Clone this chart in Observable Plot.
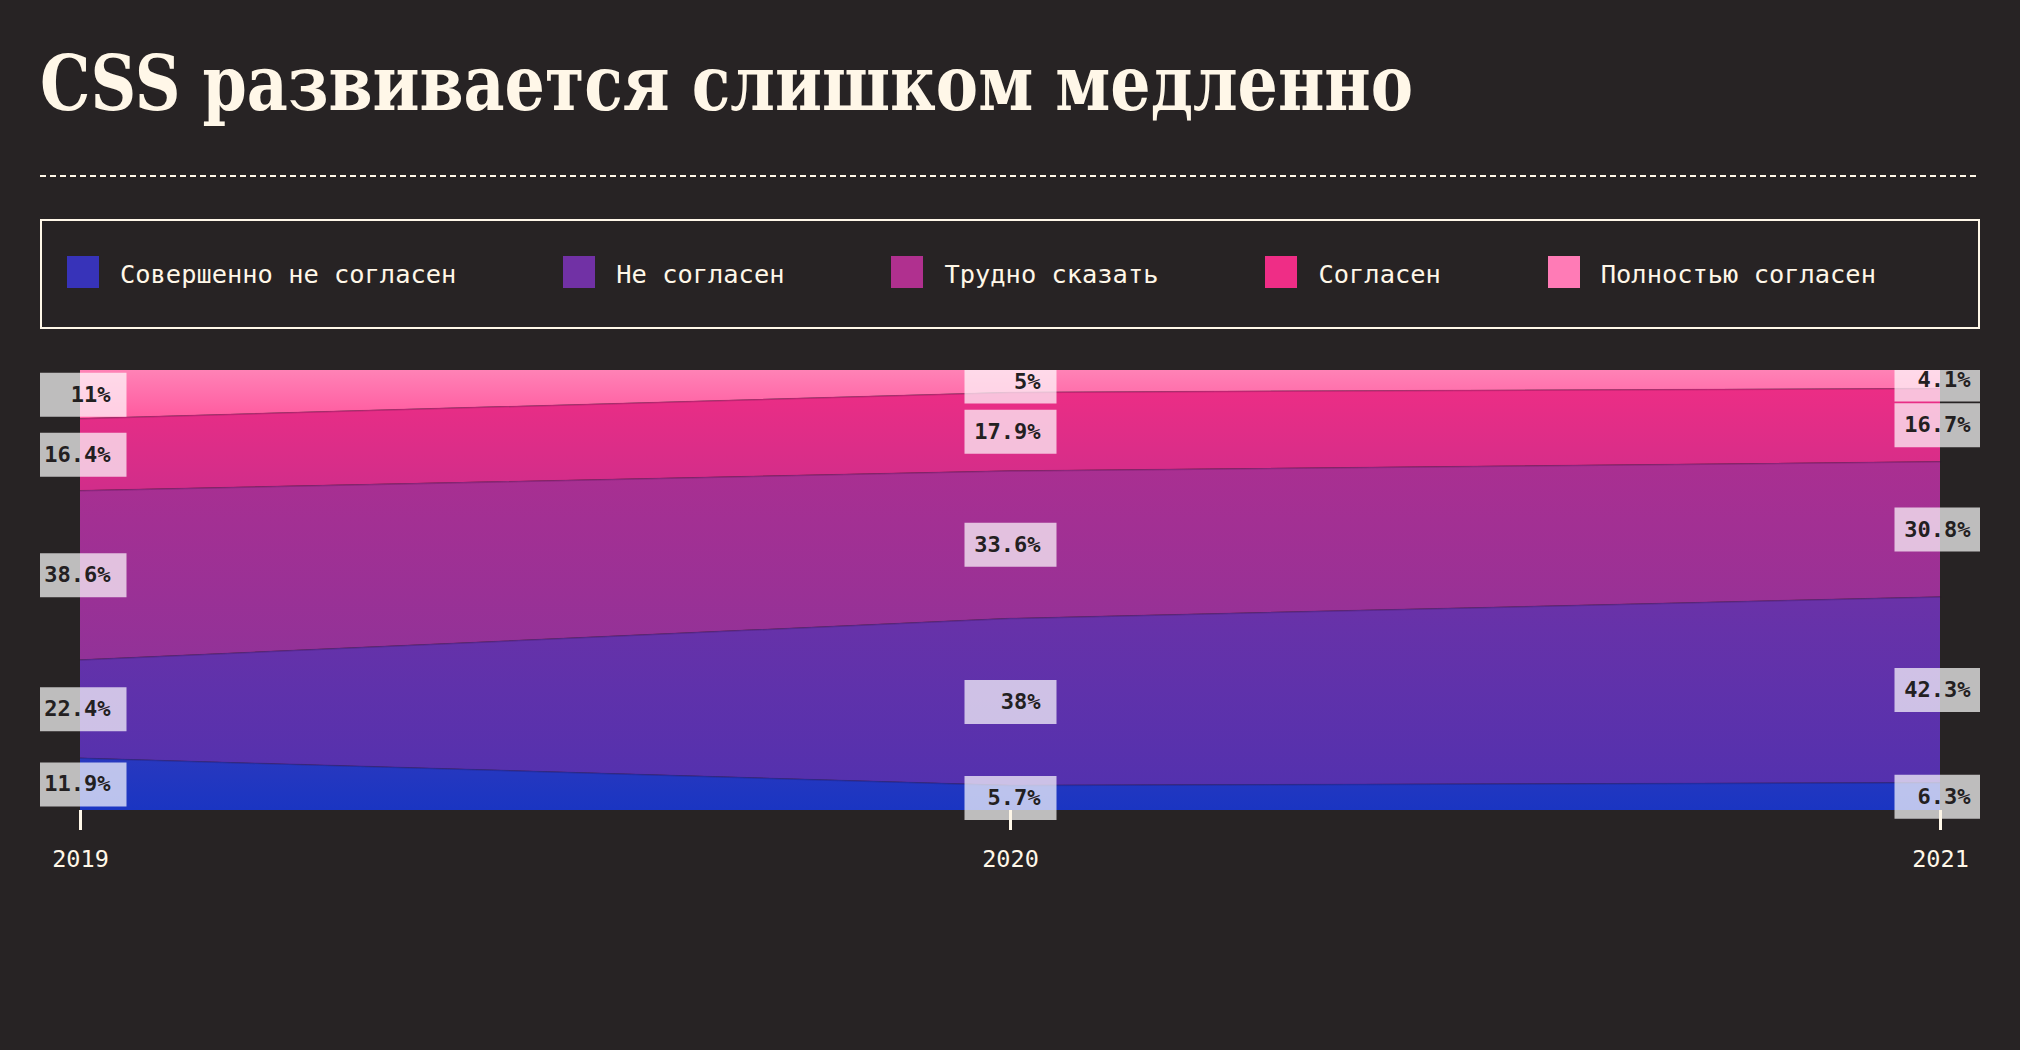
<!DOCTYPE html>
<html>
<head>
<meta charset="utf-8">
<script src="https://cdn.jsdelivr.net/npm/d3@7"></script>
<script src="https://cdn.jsdelivr.net/npm/@observablehq/plot@0.6"></script>
<style>
html, body { margin: 0; padding: 0; background: #272324; }
body { width: 2020px; height: 1050px; position: relative; overflow: hidden; }
#title { position: absolute; left: 40px; top: 45px; margin: 0; font-family: "DejaVu Serif Condensed", "DejaVu Serif", serif; font-stretch: condensed; font-weight: bold; font-size: 77px; line-height: 1; color: #fff7e8; white-space: nowrap; transform: scaleX(0.915); transform-origin: 0 0; }
#rule { position: absolute; left: 40px; top: 175px; width: 1940px; height: 2px; background: repeating-linear-gradient(90deg, #fff7e8 0 6px, transparent 6px 10px); }
#legend { position: absolute; left: 40px; top: 219px; width: 1940px; height: 110px; box-sizing: border-box; border: 2px solid #fff7e8; display: flex; align-items: center; padding: 0 0 4px 25px; gap: 107px; }
.item { display: flex; align-items: center; }
.sw { width: 32px; height: 32px; margin-right: 21px; flex: none; }
.lab { font-family: "DejaVu Sans Mono", monospace; font-size: 25.4px; color: #fff7e8; white-space: nowrap; position: relative; top: 2px; }
#chart { position: absolute; left: 40px; top: 370px; }
</style>
</head>
<body>
<h1 id="title">CSS развивается слишком медленно</h1>
<div id="rule"></div>
<div id="legend"></div>
<div id="chart"></div>
<script>
// ---- data ----
const years = [2019, 2020, 2021];
const yearTicks = ["2019", "2020", "2021"];
const categories = ["Совершенно не согласен", "Не согласен", "Трудно сказать", "Согласен", "Полностью согласен"];
const stronglyDisagree = [11.9, 5.7, 6.3];
const disagree = [22.4, 38, 42.3];
const neutral = [38.6, 33.6, 30.8];
const agree = [16.4, 17.9, 16.7];
const stronglyAgree = [11, 5, 4.1];
const seriesValues = [stronglyDisagree, disagree, neutral, agree, stronglyAgree];

// ---- styles ----
const cream = "#fff7e8";
const swatchColors = ["#3733b9", "#7131a5", "#b0308f", "#ef2d86", "#ff7bb6"];
const gradTop = ["#2838bf", "#6a32a8", "#aa2f91", "#ec2d85", "#ff82b6"];
const gradBottom = ["#1a35c2", "#5431ae", "#923298", "#d12d8a", "#ff5a9f"];
const mono = "DejaVu Sans Mono, monospace";

// legend
const legend = document.getElementById("legend");
categories.forEach((c, i) => {
  const it = document.createElement("div");
  it.className = "item";
  const sw = document.createElement("div");
  sw.className = "sw";
  sw.style.background = swatchColors[i];
  const lab = document.createElement("span");
  lab.className = "lab";
  lab.textContent = c;
  it.append(sw, lab);
  legend.append(it);
});

// table
const rows = [];
categories.forEach((cat, ci) => {
  years.forEach((year, yi) => {
    rows.push({year, cat, value: seriesValues[ci][yi]});
  });
});

const gradUrls = categories.map((_, i) => `url(#grad${i})`);
const topCat = categories[categories.length - 1];

const boxSymbol = {
  draw(context) {
    context.moveTo(-46, -22);
    context.lineTo(46, -22);
    context.lineTo(46, 22);
    context.lineTo(-46, 22);
    context.closePath();
  }
};

const stackOpts = {offset: "normalize"};

const chart = Plot.plot({
  width: 1940,
  height: 530,
  marginLeft: 40,
  marginRight: 40,
  marginTop: 0,
  marginBottom: 90,
  style: {background: "transparent", overflow: "hidden", color: cream},
  x: {domain: [2019, 2021], axis: null},
  y: {domain: [0, 1], axis: null},
  color: {type: "ordinal", domain: categories, range: gradUrls},
  marks: [
    Plot.areaY(rows, Plot.stackY(stackOpts, {x: "year", y: "value", z: "cat", fill: "cat"})),
    Plot.lineY(rows, Plot.stackY2(stackOpts, {x: "year", y: "value", z: "cat",
      stroke: d => d.cat === topCat ? "none" : "#2a0a30", strokeOpacity: 0.22, strokeWidth: 1.5})),
    Plot.dot(rows, Plot.stackY(stackOpts, {x: "year", y: "value", z: "cat",
      symbol: boxSymbol, fill: "#ffffff", fillOpacity: 0.7, stroke: "none", r: 10})),
    Plot.text(rows, Plot.stackY(stackOpts, {x: "year", y: "value", z: "cat",
      text: d => d.value + "%", textAnchor: "end", dx: 30,
      fontSize: 22, fontWeight: "bold", fontFamily: mono, fill: "#232021"})),
    Plot.axisX({ticks: years, tickFormat: d => yearTicks[years.indexOf(d)],
      tickSize: 20, tickPadding: 20, stroke: cream, strokeWidth: 3, fill: cream,
      fontSize: 23.5, fontFamily: mono, label: null})
  ]
});

// gradients
const ns = "http://www.w3.org/2000/svg";
const defs = document.createElementNS(ns, "defs");
categories.forEach((_, i) => {
  const g = document.createElementNS(ns, "linearGradient");
  g.setAttribute("id", `grad${i}`);
  g.setAttribute("x1", "0"); g.setAttribute("y1", "0");
  g.setAttribute("x2", "0"); g.setAttribute("y2", "1");
  const s1 = document.createElementNS(ns, "stop");
  s1.setAttribute("offset", "0"); s1.setAttribute("stop-color", gradTop[i]);
  const s2 = document.createElementNS(ns, "stop");
  s2.setAttribute("offset", "1"); s2.setAttribute("stop-color", gradBottom[i]);
  g.append(s1, s2);
  defs.append(g);
});
chart.insertBefore(defs, chart.firstChild);
document.getElementById("chart").append(chart);
</script>
</body>
</html>
